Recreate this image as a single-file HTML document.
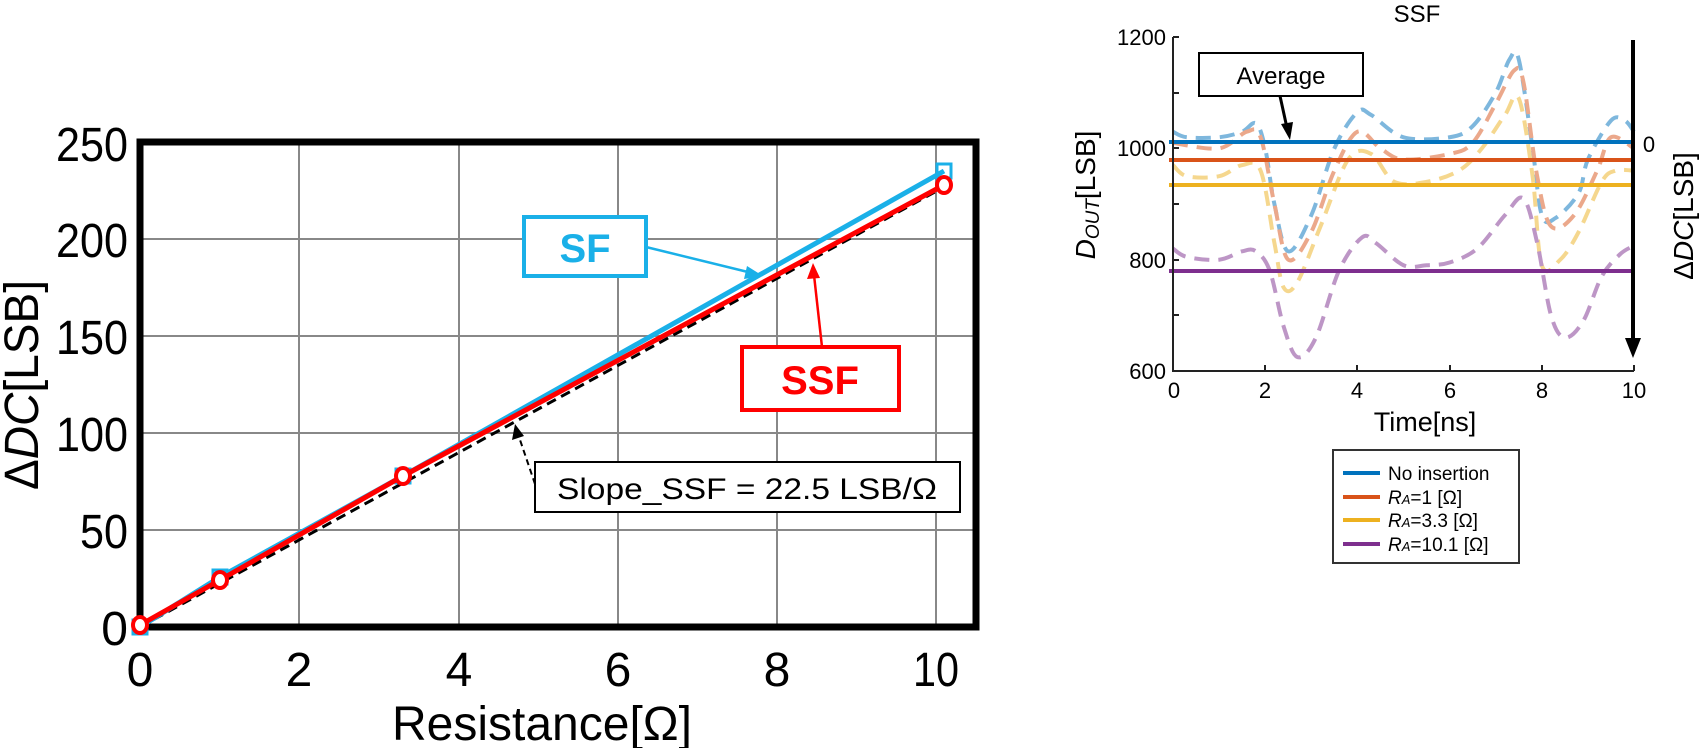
<!DOCTYPE html>
<html><head><meta charset="utf-8"><style>
html,body{margin:0;padding:0;background:#fff;}
svg{display:block;font-family:"Liberation Sans",sans-serif;}
</style></head><body>
<svg id="s" width="1700" height="748" viewBox="0 0 1700 748" xmlns="http://www.w3.org/2000/svg">
<rect width="1700" height="748" fill="#fff"/>
<g stroke="#888" stroke-width="2">
<line x1="299" y1="142" x2="299" y2="627"/><line x1="459" y1="142" x2="459" y2="627"/>
<line x1="618" y1="142" x2="618" y2="627"/><line x1="777" y1="142" x2="777" y2="627"/>
<line x1="936" y1="142" x2="936" y2="627"/>
<line x1="140" y1="239" x2="976" y2="239"/><line x1="140" y1="336" x2="976" y2="336"/>
<line x1="140" y1="433" x2="976" y2="433"/><line x1="140" y1="530" x2="976" y2="530"/>
</g>
<rect x="140" y="142" width="836" height="485" fill="none" stroke="#000" stroke-width="7"/>
<g font-size="48" text-anchor="end">
<text x="128" y="161" textLength="72" lengthAdjust="spacingAndGlyphs">250</text><text x="128" y="257" textLength="72" lengthAdjust="spacingAndGlyphs">200</text><text x="128" y="354" textLength="72" lengthAdjust="spacingAndGlyphs">150</text>
<text x="128" y="451" textLength="72" lengthAdjust="spacingAndGlyphs">100</text><text x="128" y="548" textLength="48" lengthAdjust="spacingAndGlyphs">50</text><text x="128" y="645">0</text>
</g>
<g font-size="48" text-anchor="middle">
<text x="140" y="686">0</text><text x="299" y="686">2</text><text x="459" y="686">4</text>
<text x="618" y="686">6</text><text x="777" y="686">8</text><text x="936" y="686" textLength="46" lengthAdjust="spacingAndGlyphs">10</text>
</g>
<text x="542" y="740" font-size="48" text-anchor="middle" textLength="300" lengthAdjust="spacingAndGlyphs">Resistance[Ω]</text>
<text transform="translate(38,385) rotate(-90)" font-size="48" text-anchor="middle" textLength="210" lengthAdjust="spacingAndGlyphs">Δ<tspan font-style="italic">DC</tspan>[LSB]</text>
<polyline points="140,627 944,187" fill="none" stroke="#000" stroke-width="3" stroke-dasharray="10,6"/>
<polyline points="140,627 220,577 403,476 944,171" fill="none" stroke="#1ab0e8" stroke-width="5"/>
<g fill="none" stroke="#1ab0e8" stroke-width="3">
<rect x="133" y="620" width="14" height="14"/><rect x="213" y="570" width="14" height="14"/>
<rect x="396" y="469" width="14" height="14"/><rect x="937" y="164" width="14" height="14"/>
</g>
<polyline points="140,625 220,580 403,476 944,185" fill="none" stroke="#f00" stroke-width="5"/>
<g fill="#fff" stroke="#f00" stroke-width="4">
<ellipse cx="140" cy="625" rx="7" ry="8"/><ellipse cx="220" cy="580" rx="7" ry="8"/>
<ellipse cx="403" cy="476" rx="7" ry="8"/><ellipse cx="944" cy="185" rx="7" ry="8"/>
</g>
<rect x="524" y="217" width="122" height="59" fill="#fff" stroke="#1ab0e8" stroke-width="4"/>
<text x="585" y="262" font-size="40" font-weight="bold" fill="#1ab0e8" text-anchor="middle">SF</text>
<line x1="646" y1="247" x2="752" y2="273" stroke="#1ab0e8" stroke-width="2.5"/>
<polygon points="763,276 747,266 744,279" fill="#1ab0e8"/>
<rect x="742" y="347" width="157" height="63" fill="#fff" stroke="#f00" stroke-width="4"/>
<text x="820" y="394" font-size="40" font-weight="bold" fill="#f00" text-anchor="middle">SSF</text>
<line x1="822" y1="347" x2="814" y2="275" stroke="#f00" stroke-width="2.5"/>
<polygon points="813,263 807,279 820,278" fill="#f00"/>
<rect x="535" y="462" width="425" height="50" fill="#fff" stroke="#000" stroke-width="2"/>
<text x="747" y="499" font-size="30" text-anchor="middle" textLength="380" lengthAdjust="spacingAndGlyphs">Slope_SSF = 22.5 LSB/Ω</text>
<line x1="535" y1="484" x2="518" y2="434" stroke="#000" stroke-width="2" stroke-dasharray="6,4"/>
<polygon points="515,424 512,440 524,436" fill="#000"/>

<text x="1417" y="22" font-size="24" text-anchor="middle">SSF</text>
<g id="curves" fill="none" stroke-width="4" stroke-dasharray="15,9" opacity="0.5"></g>
<g stroke-width="4">
<line x1="1169" y1="142" x2="1633" y2="142" stroke="#0072bd"/>
<line x1="1169" y1="160" x2="1633" y2="160" stroke="#d95319"/>
<line x1="1169" y1="185" x2="1633" y2="185" stroke="#edb120"/>
<line x1="1169" y1="271" x2="1633" y2="271" stroke="#7e2f8e"/>
</g>
<g stroke="#222" stroke-width="2" fill="none">
<polyline points="1173,37 1173,371 1634,371"/>
<line x1="1173" y1="37" x2="1179" y2="37"/><line x1="1173" y1="93" x2="1179" y2="93"/>
<line x1="1173" y1="148" x2="1179" y2="148"/><line x1="1173" y1="204" x2="1179" y2="204"/>
<line x1="1173" y1="260" x2="1179" y2="260"/><line x1="1173" y1="315" x2="1179" y2="315"/>
<line x1="1265" y1="371" x2="1265" y2="365"/><line x1="1357" y1="371" x2="1357" y2="365"/>
<line x1="1450" y1="371" x2="1450" y2="365"/><line x1="1542" y1="371" x2="1542" y2="365"/>
<line x1="1634" y1="371" x2="1634" y2="365"/>
</g>
<g font-size="22" text-anchor="end">
<text x="1166" y="45">1200</text><text x="1166" y="156">1000</text>
<text x="1166" y="268">800</text><text x="1166" y="379">600</text>
</g>
<g font-size="22" text-anchor="middle">
<text x="1174" y="398">0</text><text x="1265" y="398">2</text><text x="1357" y="398">4</text>
<text x="1450" y="398">6</text><text x="1542" y="398">8</text><text x="1634" y="398">10</text>
</g>
<text x="1425" y="431" font-size="27" text-anchor="middle">Time[ns]</text>
<text transform="translate(1095,195) rotate(-90)" font-size="28" text-anchor="middle"><tspan font-style="italic">D</tspan><tspan font-style="italic" font-size="19" dy="4">OUT</tspan><tspan dy="-4">[LSB]</tspan></text>
<line x1="1633" y1="40" x2="1633" y2="340" stroke="#000" stroke-width="4"/>
<polygon points="1625,338 1641,338 1633,358" fill="#000"/>
<text x="1649" y="152" font-size="22" text-anchor="middle">0</text>
<text transform="translate(1693,216) rotate(-90)" font-size="28" text-anchor="middle">Δ<tspan font-style="italic">DC</tspan>[LSB]</text>
<rect x="1199" y="53" width="164" height="43" fill="#fff" stroke="#000" stroke-width="2"/>
<text x="1281" y="84" font-size="24" text-anchor="middle">Average</text>
<line x1="1280" y1="96" x2="1287" y2="128" stroke="#000" stroke-width="3"/>
<polygon points="1290,140 1281,124 1293,122" fill="#000"/>
<rect x="1333" y="450" width="186" height="113" fill="#fff" stroke="#333" stroke-width="2"/>
<g stroke-width="4">
<line x1="1343" y1="473" x2="1380" y2="473" stroke="#0072bd"/>
<line x1="1343" y1="497" x2="1380" y2="497" stroke="#d95319"/>
<line x1="1343" y1="520" x2="1380" y2="520" stroke="#edb120"/>
<line x1="1343" y1="544" x2="1380" y2="544" stroke="#7e2f8e"/>
</g>
<g font-size="19">
<text x="1388" y="480">No insertion</text>
<text x="1388" y="504"><tspan font-style="italic">R</tspan><tspan font-style="italic" font-size="13">A</tspan>=1 [Ω]</text>
<text x="1388" y="527"><tspan font-style="italic">R</tspan><tspan font-style="italic" font-size="13">A</tspan>=3.3 [Ω]</text>
<text x="1388" y="551"><tspan font-style="italic">R</tspan><tspan font-style="italic" font-size="13">A</tspan>=10.1 [Ω]</text>
</g>
</svg>
<script>
var data={
"#0072bd":[[0,1030],[0.3,1020],[1,1020],[1.5,1030],[1.8,1045],[2.0,1000],[2.2,900],[2.5,815],[3,880],[3.5,1000],[4,1065],[4.3,1060],[5,1020],[6,1020],[6.5,1040],[7,1100],[7.3,1160],[7.5,1160],[7.8,1000],[8,880],[8.3,875],[8.8,920],[9,980],[9.5,1050],[9.8,1050],[10,1030]],
"#d95319":[[0,1010],[1,1000],[1.6,1030],[1.9,1020],[2.2,900],[2.5,800],[3,850],[3.5,960],[4,1030],[4.5,1000],[5,980],[6,990],[6.5,1010],[7,1080],[7.4,1140],[7.6,1120],[7.9,950],[8.2,860],[8.7,880],[9.2,960],[9.5,1020],[10,1000]],
"#edb120":[[0,970],[0.3,950],[1,950],[1.5,970],[1.9,960],[2.2,830],[2.4,750],[2.7,760],[3.2,860],[3.8,980],[4.3,990],[4.8,940],[5.5,940],[6.2,960],[6.7,1000],[7.2,1060],[7.5,1090],[7.8,950],[8,790],[8.4,800],[8.8,850],[9.3,940],[9.6,960],[10,960]],
"#7e2f8e":[[0,820],[0.3,805],[1,800],[1.5,815],[1.8,815],[2.1,780],[2.4,680],[2.7,625],[3.1,660],[3.6,780],[4.1,840],[4.4,830],[5,790],[5.5,790],[6,795],[6.6,820],[7.2,880],[7.6,910],[7.9,830],[8.2,700],[8.5,660],[8.9,690],[9.3,770],[9.7,810],[10,825]]};
var g=document.getElementById("curves");
function X(t){return 1173+t*46.1;}function Y(v){return 371-(v-600)*0.5565;}
for(var c in data){var p=data[c].map(function(a){return [X(a[0]),Y(a[1])];});
var d="M"+p[0][0]+","+p[0][1];
for(var i=0;i<p.length-1;i++){var p0=p[i-1]||p[i],p1=p[i],p2=p[i+1],p3=p[i+2]||p2;
d+=" C"+(p1[0]+(p2[0]-p0[0])/6)+","+(p1[1]+(p2[1]-p0[1])/6)+" "+(p2[0]-(p3[0]-p1[0])/6)+","+(p2[1]-(p3[1]-p1[1])/6)+" "+p2[0]+","+p2[1];}
var e=document.createElementNS("http://www.w3.org/2000/svg","path");e.setAttribute("d",d);e.setAttribute("stroke",c);g.appendChild(e);}
</script>
</body></html>
